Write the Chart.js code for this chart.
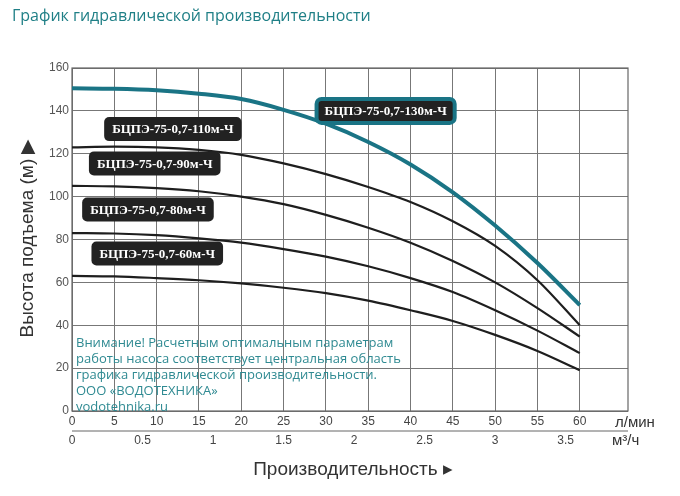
<!DOCTYPE html>
<html>
<head>
<meta charset="utf-8">
<script src="https://cdn.jsdelivr.net/npm/chart.js@4/dist/chart.umd.min.js"></script>
<style>
  body { margin: 0; background: #fff; }
  #wrap { position: relative; width: 680px; height: 496px; }
</style>
</head>
<body>
<div id="wrap"><canvas id="c" width="680" height="496"></canvas></div>
<script>
// flow, l/min
const flow = [0, 5, 10, 15, 20, 25, 30, 35, 40, 45, 50, 55, 60];
// head, m
const head130 = [150.5, 150.3, 149.6, 148, 145.5, 140.5, 134, 125.5, 115, 102, 86.5, 69, 49.4];
const head110 = [123, 123.3, 123, 121.8, 119.5, 115.5, 110.5, 104.5, 97.5, 88.5, 77, 61, 40];
const head90 = [105, 104.8, 104, 102.5, 100, 96.5, 91.5, 85.5, 78.5, 70, 60, 48, 34.7];
const head80 = [83, 82.8, 82, 80.5, 78.5, 75.5, 72, 67.5, 62, 55.5, 47, 37.5, 27];
const head60 = [63, 62.8, 62, 61, 59.5, 57.5, 55, 51.5, 47, 42, 35.5, 28, 19];
const seriesNames = ['БЦПЭ-75-0,7-130м-Ч', 'БЦПЭ-75-0,7-110м-Ч', 'БЦПЭ-75-0,7-90м-Ч', 'БЦПЭ-75-0,7-80м-Ч', 'БЦПЭ-75-0,7-60м-Ч'];
// label anchors (flow, head) for each curve name
const labelX = [28.9, 3.8, 2.0, 1.2, 2.3];
const labelY = [140, 131.5, 115.5, 94, 73.5];
const yTicks = [0, 20, 40, 60, 80, 100, 120, 140, 160];
const m3Ticks = [0, 0.5, 1, 1.5, 2, 2.5, 3, 3.5];
const note = ['Внимание! Расчетным оптимальным параметрам', 'работы насоса соответствует центральная область', 'графика гидравлической производительности.', 'ООО «ВОДОТЕХНИКА»', 'vodotehnika.ru'];

const teal = '#1a7485';
const pts = arr => arr.map((v, i) => ({ x: flow[i], y: v }));
const line = (arr, color, w) => ({ data: pts(arr), borderColor: color, borderWidth: w, pointRadius: 0, cubicInterpolationMode: 'monotone', fill: false });

function roundRect(ctx, x, y, w, h, r) {
  ctx.beginPath();
  ctx.moveTo(x + r, y);
  ctx.arcTo(x + w, y, x + w, y + h, r);
  ctx.arcTo(x + w, y + h, x, y + h, r);
  ctx.arcTo(x, y + h, x, y, r);
  ctx.arcTo(x, y, x + w, y, r);
  ctx.closePath();
}

const decor = {
  id: 'decor',
  beforeDatasetsDraw(chart) {
    const { ctx, chartArea: a } = chart;
    ctx.save();
    ctx.strokeStyle = '#666';
    ctx.lineWidth = 1.2;
    ctx.strokeRect(a.left, a.top, a.right - a.left, a.bottom - a.top);
    ctx.textBaseline = 'middle';
    ctx.fillStyle = '#1f7f86';
    ctx.font = '16px "Open Sans", sans-serif';
    ctx.fillText('График гидравлической производительности', 12, 16);
    // note text
    ctx.fillStyle = '#2f8a92';
    ctx.font = '13px "Open Sans", sans-serif';
    note.forEach((t, i) => ctx.fillText(t, 76, 343 + i * 16));
    ctx.restore();
  },
  afterDatasetsDraw(chart) {
    const { ctx, chartArea: a, scales } = chart;
    const xs = scales.x, ys = scales.y;
    ctx.save();
    // curve name boxes
    ctx.font = 'bold 13px "Liberation Serif", serif';
    ctx.textBaseline = 'middle';
    seriesNames.forEach((n, i) => {
      const px = xs.getPixelForValue(labelX[i]), py = ys.getPixelForValue(labelY[i]);
      const w = ctx.measureText(n).width + 16, h = 24;
      roundRect(ctx, px, py - h / 2, w, h, 5);
      ctx.fillStyle = '#222';
      ctx.fill();
      if (i === 0) { ctx.strokeStyle = teal; ctx.lineWidth = 4; ctx.stroke(); }
      ctx.fillStyle = '#fff';
      ctx.fillText(n, px + 8, py + 1);
    });
    // bottom axis rows
    ctx.fillStyle = '#444';
    ctx.font = '12px "Liberation Sans Narrow", "Liberation Sans", sans-serif';
    ctx.textAlign = 'center';
    flow.forEach(v => ctx.fillText(String(v), xs.getPixelForValue(v), a.bottom + 11));
    m3Ticks.forEach(v => ctx.fillText(String(v), xs.getPixelForValue(v * 1000 / 60), a.bottom + 30));
    ctx.strokeStyle = '#666';
    ctx.lineWidth = 1;
    ctx.beginPath();
    ctx.moveTo(a.left, a.bottom + 20);
    ctx.lineTo(a.right, a.bottom + 20);
    ctx.stroke();
    ctx.font = '15px "Liberation Sans", sans-serif';
    ctx.textAlign = 'left';
    ctx.fillStyle = '#333';
    ctx.fillText('л/мин', 615, a.bottom + 12);
    ctx.fillText('м³/ч', 612, a.bottom + 30);
    // axis titles
    ctx.font = '19px "Liberation Sans", sans-serif';
    ctx.textAlign = 'center';
    ctx.fillText('Производительность ▸', 353, 470);
    ctx.translate(28, 238);
    ctx.rotate(-Math.PI / 2);
    ctx.fillText('Высота подъема (м) ▶', 0, 0);
    ctx.restore();
  }
};

new Chart(document.getElementById('c'), {
  type: 'line',
  data: {
    datasets: [
      line(head60, '#1e1e1e', 2.2),
      line(head80, '#1e1e1e', 2.2),
      line(head90, '#1e1e1e', 2.2),
      line(head110, '#1e1e1e', 2.2),
      line(head130, teal, 4)
    ]
  },
  options: {
    responsive: false,
    animation: false,
    layout: { padding: { top: 68, right: 52, left: 0, bottom: 0 } },
    plugins: { legend: { display: false }, tooltip: { enabled: false } },
    scales: {
      x: {
        type: 'linear', min: 0, max: 65.7,
        afterBuildTicks: s => { s.ticks = flow.map(v => ({ value: v })); },
        afterFit: s => { s.height = 85; },
        ticks: { display: false },
        grid: { color: '#777', lineWidth: 1, drawTicks: false },
        border: { display: false }
      },
      y: {
        min: 0, max: 160,
        afterBuildTicks: s => { s.ticks = yTicks.map(v => ({ value: v })); },
        afterFit: s => { s.width = 72; },
        ticks: { color: '#555', font: { size: 12, family: '"Liberation Sans Narrow", "Liberation Sans", sans-serif' }, padding: 3 },
        grid: { color: '#777', lineWidth: 1, drawTicks: false },
        border: { display: false }
      }
    }
  },
  plugins: [decor]
});
</script>
</body>
</html>
